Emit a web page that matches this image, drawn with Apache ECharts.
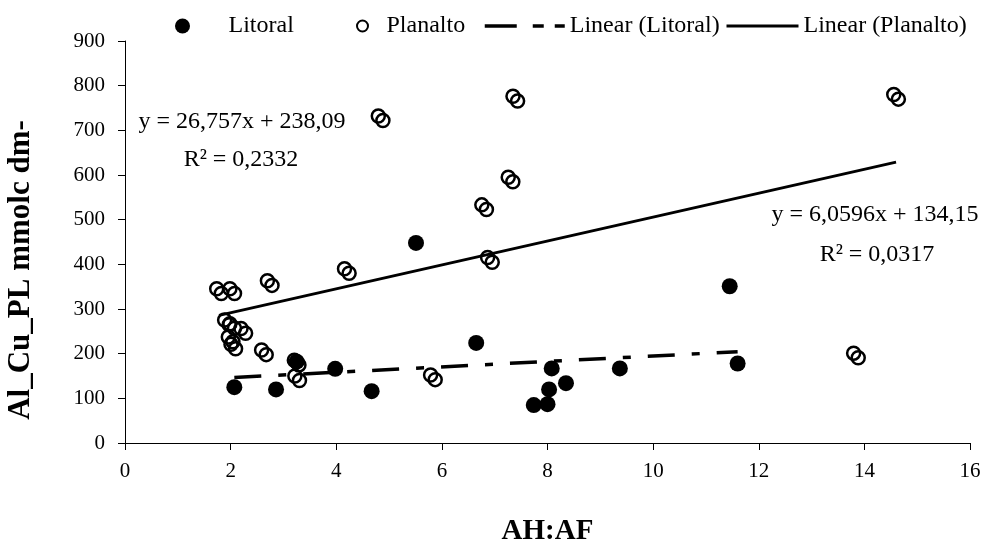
<!DOCTYPE html>
<html>
<head>
<meta charset="utf-8">
<script src="https://cdn.jsdelivr.net/npm/echarts@6/dist/echarts.min.js"></script>
<style>
  html, body { margin: 0; padding: 0; background: #fff; }
  #chart { width: 994px; height: 546px; }
</style>
</head>
<body>
<div id="chart"></div>
<script>
// [AH:AF, Al_Cu_PL]
var litoral = [
  [2.07, 125], [2.86, 120], [3.25, 182], [3.98, 166], [4.67, 116],
  [5.51, 448], [6.65, 224], [7.74, 85], [8.0, 87], [8.03, 120],
  [8.08, 167], [8.35, 134], [9.37, 167], [11.45, 351], [11.6, 178]
]
var planalto = [
  [1.78, 340], [2.03, 340], [1.93, 270], [2.03, 262], [2.24, 251],
  [2.0, 232], [2.05, 216], [2.63, 203], [2.74, 358], [3.25, 180],
  [3.26, 145], [4.2, 385], [4.84, 727], [5.83, 147], [6.8, 528],
  [6.91, 410], [7.3, 590], [7.39, 771], [13.84, 196], [14.6, 775]
]
// trend line coefficients as printed on the chart
var fitLitoral = { a: 6.0596, b: 134.15 }
var fitPlanalto = { a: 26.757, b: 238.09 }
var eqPlanalto = ['y = 26,757x + 238,09', 'R² = 0,2332']
var eqLitoral = ['y = 6,0596x + 134,15', 'R² = 0,0317']

var serif = '"Liberation Serif", "Times New Roman", serif'

// trend runs from the smallest to the largest x of its series
function trend(points, fit) {
  var xs = points.map(function (p) { return p[0] })
  var lo = Math.min.apply(null, xs)
  var hi = Math.max.apply(null, xs)
  return [[lo, fit.a * lo + fit.b], [hi, fit.a * hi + fit.b]]
}

function eqText(x, y, text) {
  return {
    type: 'text',
    x: x,
    y: y,
    style: {
      text: text,
      align: 'center',
      verticalAlign: 'middle',
      font: '24px ' + serif,
      fill: '#000'
    }
  }
}

var legendText = { fontFamily: serif, fontSize: 24, color: '#000' }
// hides the marker that line legends put in the middle
var noMarker = { opacity: 0 }

var chart = echarts.init(document.getElementById('chart'))
chart.setOption({
  animation: false,
  grid: { left: 125, right: 24, top: 41, bottom: 103, outerBoundsMode: 'none' },
  legend: [
    {
      data: ['Litoral'], left: 175, top: 14, padding: 0, itemWidth: 82, itemHeight: 15, textStyle: legendText,
      itemStyle: { color: '#000', opacity: 1 }
    },
    {
      data: ['Planalto'], left: 356, top: 14, padding: 0, itemWidth: 38, itemHeight: 11, textStyle: legendText,
      itemStyle: { color: 'transparent', borderColor: '#000', borderWidth: 2, opacity: 1 }
    },
    {
      data: ['Linear (Litoral)'], left: 483, top: 14, padding: 0, itemWidth: 80, itemHeight: 14, textStyle: legendText,
      itemStyle: noMarker,
      lineStyle: { type: [32, 16, 11, 11, 10, 30], width: 3.5, color: '#000' }
    },
    {
      data: ['Linear (Planalto)'], left: 725, top: 14, padding: 0, itemWidth: 72, itemHeight: 14, textStyle: legendText,
      itemStyle: noMarker,
      lineStyle: { width: 3, color: '#000' }
    }
  ],
  xAxis: {
    type: 'value',
    min: 0,
    max: 16,
    interval: 2,
    name: 'AH:AF',
    nameLocation: 'middle',
    nameGap: 74,
    nameTextStyle: { fontFamily: serif, fontSize: 29, fontWeight: 'bold', color: '#000' },
    axisLine: { show: true, lineStyle: { color: '#000', width: 1 } },
    axisTick: { show: true, length: 7, lineStyle: { color: '#000' } },
    axisLabel: { fontFamily: serif, fontSize: 21, color: '#000', margin: 18 },
    splitLine: { show: false }
  },
  yAxis: {
    type: 'value',
    min: 0,
    max: 900,
    interval: 100,
    name: 'Al_Cu_PL mmolc dm-',
    nameLocation: 'middle',
    nameGap: 89,
    nameTextStyle: { fontFamily: serif, fontSize: 31, fontWeight: 'bold', color: '#000', padding: [0, 56, 0, 0] },
    axisLine: { show: true, lineStyle: { color: '#000', width: 1 } },
    axisTick: { show: true, length: 7, lineStyle: { color: '#000' } },
    axisLabel: { fontFamily: serif, fontSize: 21, color: '#000', margin: 20 },
    splitLine: { show: false }
  },
  series: [
    {
      name: 'Litoral',
      type: 'scatter',
      data: litoral,
      symbol: 'circle',
      symbolSize: 16,
      itemStyle: { color: '#000', opacity: 1 }
    },
    {
      name: 'Planalto',
      type: 'scatter',
      data: planalto,
      symbol: 'circle',
      symbolSize: 13,
      symbolOffset: [-2.3, -2.3],
      itemStyle: { color: 'transparent', borderColor: '#000', borderWidth: 2.5, opacity: 1 }
    },
    {
      // every Planalto marker is drawn as a doubled ring
      name: 'Planalto',
      type: 'scatter',
      data: planalto,
      symbol: 'circle',
      symbolSize: 13,
      symbolOffset: [2.3, 2.3],
      itemStyle: { color: 'transparent', borderColor: '#000', borderWidth: 2.5, opacity: 1 }
    },
    {
      name: 'Linear (Litoral)',
      type: 'line',
      data: trend(litoral, fitLitoral),
      symbol: 'none',
      itemStyle: { color: '#000' },
      lineStyle: { color: '#000', width: 3.5, type: [27, 17, 8, 17] },
      z: 5
    },
    {
      name: 'Linear (Planalto)',
      type: 'line',
      data: trend(planalto, fitPlanalto),
      symbol: 'none',
      itemStyle: { color: '#000' },
      lineStyle: { color: '#000', width: 3, type: 'solid' },
      z: 5
    }
  ],
  graphic: [
    eqText(242, 122, eqPlanalto[0]),
    eqText(241, 160, eqPlanalto[1]),
    eqText(875, 215, eqLitoral[0]),
    eqText(877, 255, eqLitoral[1])
  ]
})
</script>
</body>
</html>
